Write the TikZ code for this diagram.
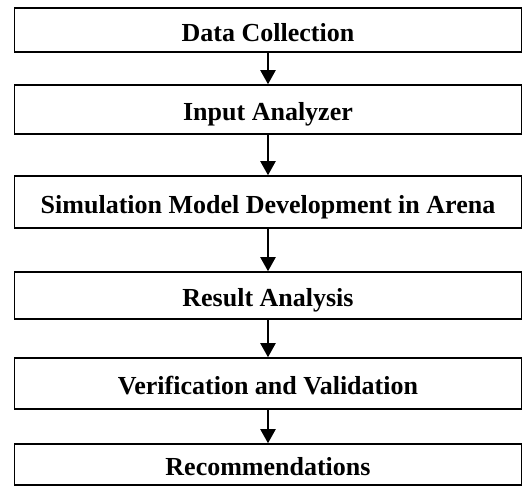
\documentclass[tikz,border=0pt]{standalone}
\usepackage{fontspec}
\setmainfont{Liberation Serif}
\usepackage{tikz}
\usetikzlibrary{arrows.meta}

\begin{document}
\begin{tikzpicture}[x=1pt,y=-1pt,
  stage/.style={draw,line width=1.5pt,minimum width=507pt,inner sep=0pt,
    text height=23pt,text depth=0pt,font=\fontsize{26}{30}\selectfont\bfseries},
  flow/.style={-{Triangle[width=15pt,length=14pt]},line width=2pt}]
\useasboundingbox (0,0) rectangle (531,486);

% Stages
\node[stage,minimum height=44pt] (collect) at (268,30) {Data Collection};
\node[stage,minimum height=49pt] (input) at (268,109.5) {Input Analyzer};
\node[stage,minimum height=52pt] (model) at (268,202) {Simulation Model Development in Arena};
\node[stage,minimum height=47pt] (result) at (268,295.5) {Result Analysis};
\node[stage,minimum height=51pt] (verify) at (268,383.5) {Verification and Validation};
\node[stage,minimum height=41pt] (recommend) at (268,464.5) {Recommendations};

% Flow arrows
\draw[flow] (collect) -- (input);
\draw[flow] (input) -- (model);
\draw[flow] (model) -- (result);
\draw[flow] (result) -- (verify);
\draw[flow] (verify) -- (recommend);
\end{tikzpicture}
\end{document}
